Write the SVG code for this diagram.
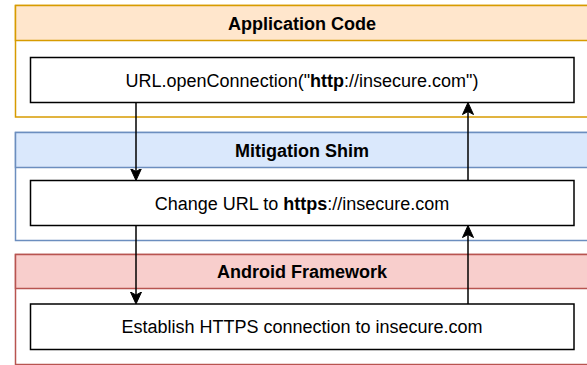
<svg xmlns="http://www.w3.org/2000/svg" width="587" height="365" viewBox="0 0 587 365">
<style>
.lane{fill:#ffffff;stroke-width:1.5}
.hdr{stroke-width:1.5}
.box{fill:#ffffff;stroke:#000000;stroke-width:1.5}
.t{font-family:"Liberation Sans",Arial,sans-serif;font-size:18px;fill:#000000;text-anchor:middle}
.b{font-weight:bold}
.edge{fill:none;stroke:#000000;stroke-width:1.5}
</style>
<defs>
<marker id="arr" markerUnits="userSpaceOnUse" markerWidth="14" markerHeight="12" viewBox="0 -6 14 12" refX="9" refY="0" orient="auto">
<path d="M12,0 L0,-5.5 L3,0 L0,5.5 Z" fill="#000000" stroke="#000000" stroke-width="1"/>
</marker>
</defs>
<g id="app-lane">
<rect class="lane" x="15.5" y="5.5" width="574" height="111.5" stroke="#d79b00"/>
<rect class="hdr" x="15.5" y="5.5" width="574" height="35" fill="#ffe6cc" stroke="#d79b00"/>
<text class="t b" x="302" y="29.5">Application Code</text>
</g>
<g id="mit-lane">
<rect class="lane" x="15.5" y="132.5" width="574" height="108" stroke="#6c8ebf"/>
<rect class="hdr" x="15.5" y="132.5" width="574" height="35" fill="#dae8fc" stroke="#6c8ebf"/>
<text class="t b" x="302" y="156.5">Mitigation Shim</text>
</g>
<g id="and-lane">
<rect class="lane" x="15.5" y="254.5" width="574" height="110" stroke="#b85450"/>
<rect class="hdr" x="15.5" y="254.5" width="574" height="34" fill="#f8cecc" stroke="#b85450"/>
<text class="t b" x="302" y="278">Android Framework</text>
</g>
<g id="node-open">
<rect class="box" x="30.5" y="57.5" width="543.5" height="45"/>
<text class="t" x="302" y="86.5">URL.openConnection("<tspan class="b">http</tspan>://insecure.com")</text>
</g>
<g id="node-change">
<rect class="box" x="30.5" y="180.5" width="543.5" height="45"/>
<text class="t" x="302" y="209.5">Change URL to <tspan class="b">https</tspan>://insecure.com</text>
</g>
<g id="node-establish">
<rect class="box" x="30.5" y="304" width="543.5" height="45.5"/>
<text class="t" x="302" y="333">Establish HTTPS connection to insecure.com</text>
</g>
<g id="connectors">
<path class="edge" d="M136,102.5 L136,177.5" marker-end="url(#arr)"/>
<path class="edge" d="M468,180.5 L468,105.5" marker-end="url(#arr)"/>
<path class="edge" d="M136,225.5 L136,301" marker-end="url(#arr)"/>
<path class="edge" d="M468,304 L468,228.5" marker-end="url(#arr)"/>
</g>
</svg>
